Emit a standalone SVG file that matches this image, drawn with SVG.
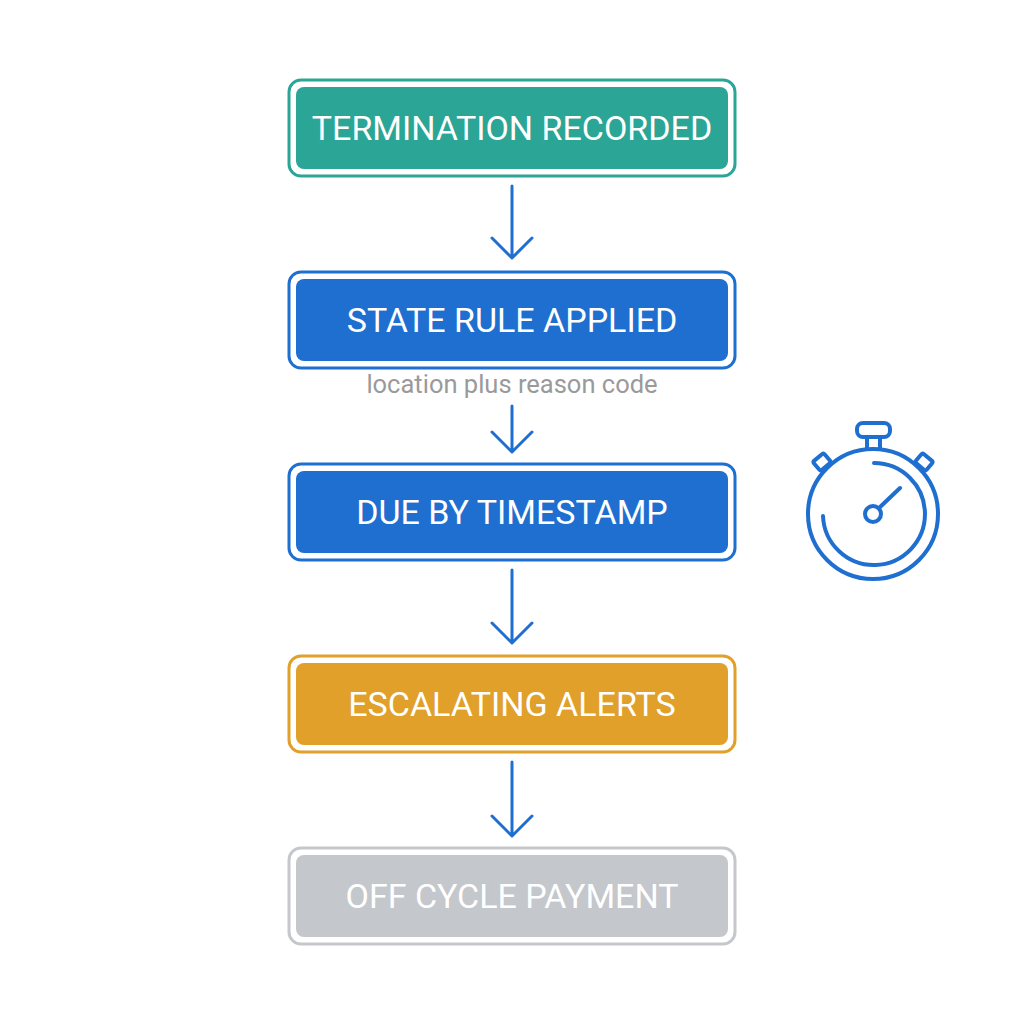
<svg xmlns="http://www.w3.org/2000/svg" width="1024" height="1024" viewBox="0 0 1024 1024">
<style>
.o{fill:#fff;stroke-width:3}
.t{font-family:Roboto,"Liberation Sans",sans-serif;font-size:34px;fill:#fff;text-anchor:middle}
.c{stroke:#1f6fd1;stroke-width:3;fill:none;stroke-linecap:round;stroke-linejoin:round}
</style>
<rect width="1024" height="1024" fill="#fff"/>
<g id="n1"><rect class="o" x="289" y="80" width="446" height="96" rx="12" stroke="#2ba596"/><rect x="296" y="87" width="432" height="82" rx="8" fill="#2ba596"/><text class="t" x="512" y="140">TERMINATION RECORDED</text></g>
<g id="n2"><rect class="o" x="289" y="272" width="446" height="96" rx="12" stroke="#1f6fd1"/><rect x="296" y="279" width="432" height="82" rx="8" fill="#1f6fd1"/><text class="t" x="512" y="332">STATE RULE APPLIED</text></g>
<g id="n3"><rect class="o" x="289" y="464" width="446" height="96" rx="12" stroke="#1f6fd1"/><rect x="296" y="471" width="432" height="82" rx="8" fill="#1f6fd1"/><text class="t" x="512" y="524">DUE BY TIMESTAMP</text></g>
<g id="n4"><rect class="o" x="289" y="656" width="446" height="96" rx="12" stroke="#e0a02a"/><rect x="296" y="663" width="432" height="82" rx="8" fill="#e0a02a"/><text class="t" x="512" y="716">ESCALATING ALERTS</text></g>
<g id="n5"><rect class="o" x="289" y="848" width="446" height="96" rx="12" stroke="#c4c7cb"/><rect x="296" y="855" width="432" height="82" rx="8" fill="#c4c7cb"/><text class="t" x="512" y="908">OFF CYCLE PAYMENT</text></g>
<g id="connectors" class="c">
<path d="M512 186V258M492 238l20 20 20-20"/>
<path d="M512 406V452M492 432l20 20 20-20"/>
<path d="M512 570V643M492 623l20 20 20-20"/>
<path d="M512 762V836M492 816l20 20 20-20"/>
</g>
<text x="512" y="393" font-family="Roboto,'Liberation Sans',sans-serif" font-size="25.5" fill="#9a9a9a" text-anchor="middle">location plus reason code</text>
<g id="stopwatch" class="c" style="stroke-width:4">
<circle cx="873" cy="514" r="65"/>
<path d="M874 463A51 51 0 1 1 823 516"/>
<circle cx="873" cy="514" r="8"/>
<path d="M879 508L900 488"/>
<rect x="857" y="423" width="33" height="14" rx="6"/>
<path d="M867 437V449M880 437V449"/>
<rect x="-7" y="-6" width="14" height="12" rx="2" transform="translate(822 462) rotate(-40)"/>
<rect x="-7" y="-6" width="14" height="12" rx="2" transform="translate(924 462) rotate(40)"/>
</g>
</svg>
